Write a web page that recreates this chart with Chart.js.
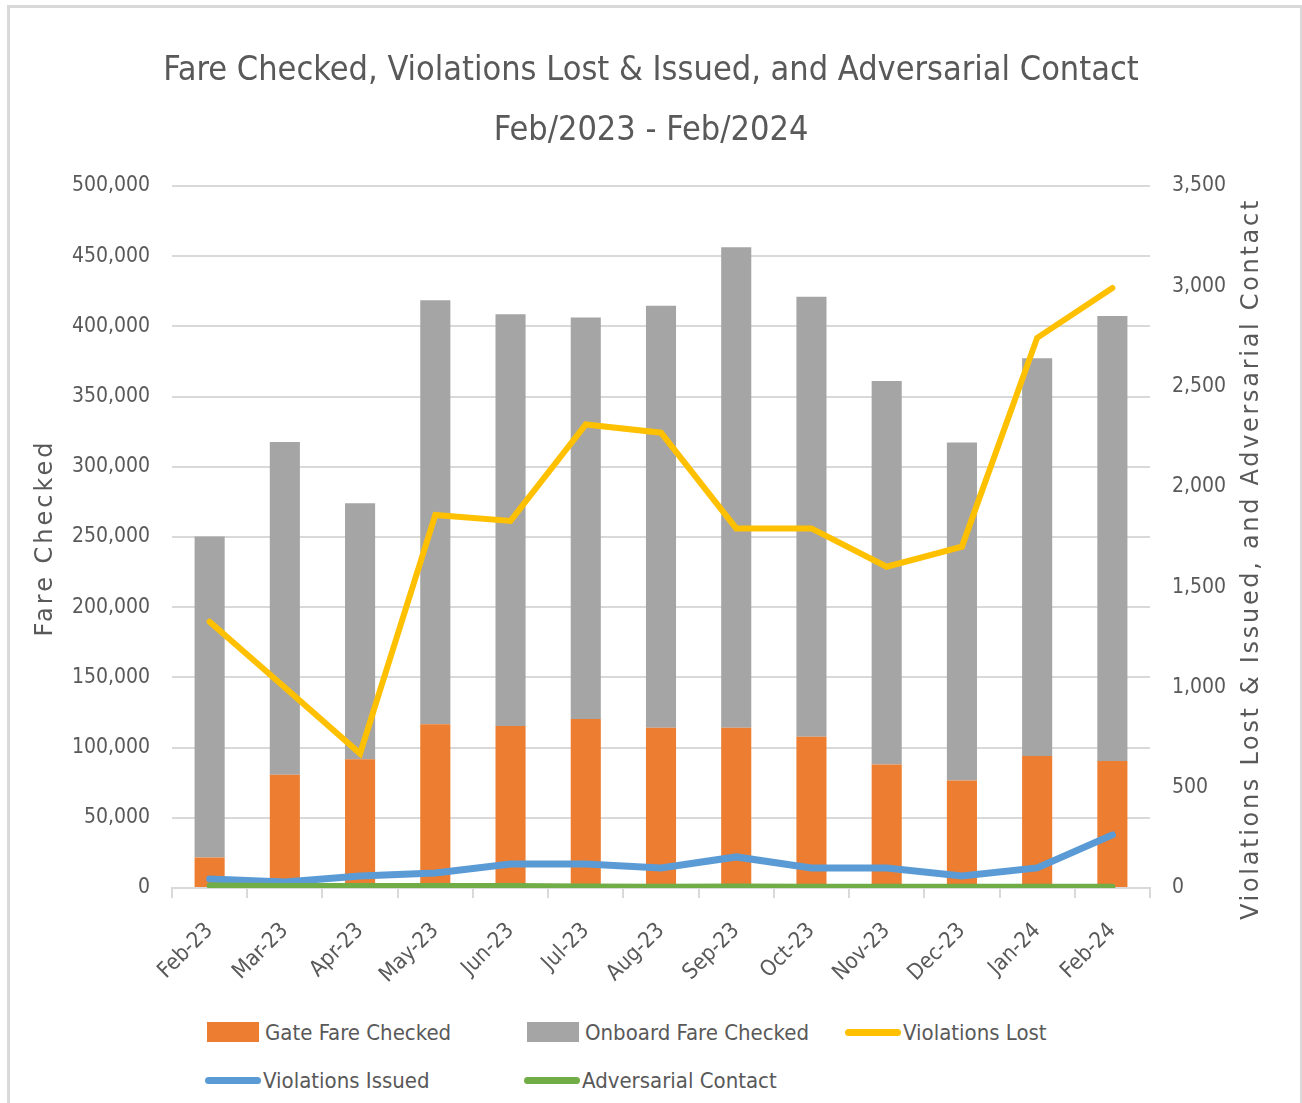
<!DOCTYPE html>
<html>
<head>
<meta charset="utf-8">
<script src="https://cdn.jsdelivr.net/npm/chart.js@4.4.1/dist/chart.umd.min.js"></script>
<style>
  html, body { margin: 0; padding: 0; background: #fff; }
  #frame { position: absolute; left: 7px; top: 5px; width: 1290px; height: 1120px; border: 3px solid #d9d9d9; border-bottom: none; }
  #wrap { position: absolute; left: 0; top: 0; width: 1302px; height: 1000px; }
  #legend { position: absolute; left: 0; top: 1005px; width: 1302px; height: 98px;
            font-family: 'Liberation Sans Narrow', 'DejaVu Sans Condensed', sans-serif; font-size: 22px; color: #595959; }
  .item { position: absolute; display: flex; align-items: center; height: 30px; }
  .sw { display: inline-block; }
</style>
</head>
<body>
<div id="frame"></div>
<div id="wrap"><canvas id="fareChart" width="1302" height="1000"></canvas></div>
<div id="legend"></div>
<script>
// data
const months = ['Feb-23','Mar-23','Apr-23','May-23','Jun-23','Jul-23','Aug-23','Sep-23','Oct-23','Nov-23','Dec-23','Jan-24','Feb-24'];
const gateFare = [21700, 80600, 91700, 116600, 115400, 120400, 114200, 114200, 107800, 87900, 76500, 94100, 90500];
const onboardFare = [228700, 237000, 182300, 302000, 293300, 285900, 300600, 342200, 313400, 273300, 240800, 283300, 317000];
const violationsLost = [1328, 1000, 670, 1860, 1830, 2311, 2270, 1793, 1793, 1602, 1702, 2743, 2992];
const violationsIssued = [45, 30, 60, 75, 120, 120, 100, 155, 100, 100, 60, 100, 265];
const adversarial = [12, 10, 10, 10, 10, 8, 6, 8, 6, 6, 6, 6, 6];
const titleLines = ['Fare Checked, Violations Lost & Issued, and Adversarial Contact', 'Feb/2023 - Feb/2024'];
const leftTitle = 'Fare Checked';
const rightTitleText = 'Violations Lost & Issued, and Adversarial Contact';

const NARROW = "'Liberation Sans Narrow', 'DejaVu Sans Condensed', sans-serif";
const TEXT = '#595959';
const GRID = '#d9d9d9';

Chart.defaults.font.family = NARROW;
Chart.defaults.color = TEXT;

// both axis titles read bottom-to-top, drawn with a little tracking
const axisTitles = {
  id: 'axisTitles',
  afterDraw(chart) {
    const { ctx, chartArea } = chart;
    const draw = (text, x, y, spacing) => {
      ctx.save();
      ctx.translate(x, y);
      ctx.rotate(-Math.PI / 2);
      ctx.font = "24px 'DejaVu Sans'";
      ctx.letterSpacing = spacing;
      ctx.fillStyle = TEXT;
      ctx.textAlign = 'center';
      ctx.textBaseline = 'middle';
      ctx.fillText(text, 0, 0);
      ctx.restore();
    };
    const mid = (chartArea.top + chartArea.bottom) / 2;
    draw(leftTitle, 46, mid + 1, '3px');
    draw(rightTitleText, 1252, mid + 22, '2.7px');
  }
};

const lineOpts = { type: 'line', yAxisID: 'y1', pointRadius: 0, pointHoverRadius: 0, borderWidth: 6,
                   borderCapStyle: 'round', borderJoinStyle: 'miter', tension: 0, fill: false };

const chart = new Chart(document.getElementById('fareChart'), {
  data: {
    labels: months,
    datasets: [
      { type: 'bar', label: 'Gate Fare Checked', data: gateFare, backgroundColor: '#ED7D31', stack: 'fare', order: 3,
        barPercentage: 0.4, categoryPercentage: 1.0 },
      { type: 'bar', label: 'Onboard Fare Checked', data: onboardFare, backgroundColor: '#A5A5A5', stack: 'fare', order: 3,
        barPercentage: 0.4, categoryPercentage: 1.0 },
      { ...lineOpts, label: 'Violations Lost', data: violationsLost, borderColor: '#FFC000', backgroundColor: '#FFC000', order: 0 },
      { ...lineOpts, label: 'Violations Issued', data: violationsIssued, borderColor: '#5B9BD5', backgroundColor: '#5B9BD5', borderWidth: 7, order: 2 },
      { ...lineOpts, label: 'Adversarial Contact', data: adversarial, borderColor: '#70AD47', backgroundColor: '#70AD47', order: 1 },
    ],
  },
  options: {
    responsive: false,
    animation: false,
    layout: { padding: 0 },
    plugins: {
      legend: { display: false },
      tooltip: { enabled: false },
      title: {
        display: true,
        text: titleLines,
        color: TEXT,
        font: { family: NARROW, size: 34, weight: 'normal', lineHeight: 1.765 },
        padding: { top: 41, bottom: 25 },
      },
    },
    scales: {
      x: {
        stacked: true,
        grid: { offset: true, drawOnChartArea: false, drawTicks: true, tickLength: 10, color: GRID, lineWidth: 2 },
        border: { color: GRID, width: 2 },
        ticks: { minRotation: 45, maxRotation: 45, padding: 20, color: TEXT, font: { size: 22 } },
        afterFit: s => { s.height = 112; },
      },
      y: {
        stacked: true,
        position: 'left',
        min: 0, max: 500000,
        ticks: { stepSize: 50000, padding: 22, color: TEXT, font: { size: 21 } },
        grid: { color: GRID, lineWidth: 2, drawTicks: false },
        border: { display: false },
        afterFit: s => { s.width = 172; },
      },
      y1: {
        position: 'right',
        min: 0, max: 3500,
        ticks: { stepSize: 500, padding: 22, color: TEXT, font: { size: 21 } },
        grid: { display: false, drawTicks: false },
        border: { display: false },
        afterFit: s => { s.width = 152; },
      },
    },
  },
  plugins: [axisTitles],
});

// html legend laid out like the spreadsheet's grid
const legendPos = [[207, 12], [527, 12], [845, 12], [205, 60], [524, 60]];
const legendEl = document.getElementById('legend');
chart.data.datasets.forEach((ds, i) => {
  const item = document.createElement('div');
  item.className = 'item';
  item.style.left = legendPos[i][0] + 'px';
  item.style.top = legendPos[i][1] + 'px';
  const sw = document.createElement('span');
  sw.className = 'sw';
  if (ds.type === 'bar') {
    sw.style.cssText = `width:52px;height:20px;background:${ds.backgroundColor};margin-right:6px`;
  } else {
    sw.style.cssText = `width:56px;height:7px;border-radius:4px;background:${ds.borderColor};margin-right:2px`;
  }
  item.appendChild(sw);
  item.appendChild(document.createTextNode(ds.label));
  legendEl.appendChild(item);
});
</script>
</body>
</html>
